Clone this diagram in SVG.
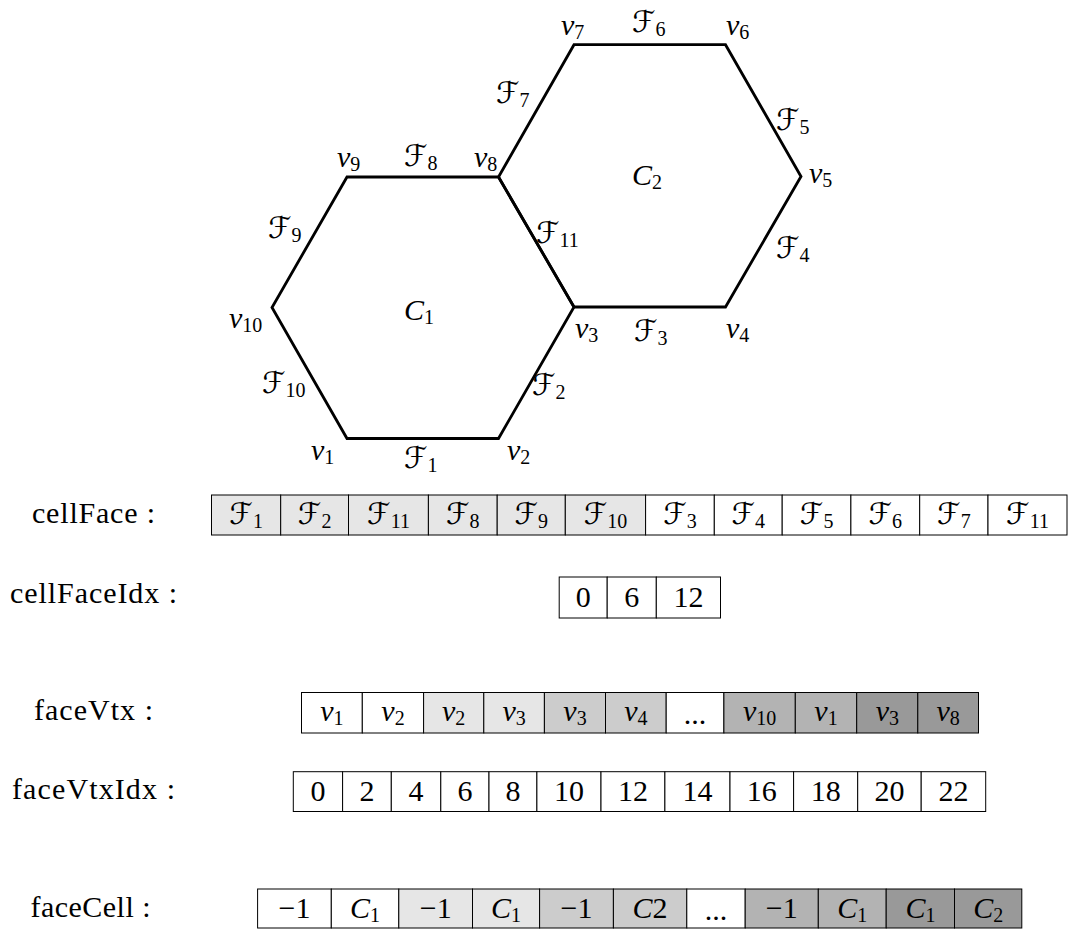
<svg xmlns="http://www.w3.org/2000/svg" width="1068" height="929" viewBox="0 0 1068 929">
<style>
.hex{fill:none;stroke:#000;stroke-width:2.8;stroke-linejoin:miter}
.lbl{font-family:"Liberation Serif",serif;font-size:30px;fill:#000}
.m{font-family:"Liberation Serif",serif;font-size:30px;font-style:italic;fill:#000}
.F{font-family:"DejaVu Sans","Liberation Serif",serif;font-style:normal;font-size:30px}
.s{font-style:normal;font-size:20px}
.n{font-family:"Liberation Serif",serif;font-size:30px;fill:#000}
.c{text-anchor:middle}
.cell{stroke:#000;stroke-width:1}
.w{fill:#fff}.g1{fill:#e6e6e6}.g2{fill:#cccccc}.g3{fill:#b3b3b3}.g4{fill:#999999}
</style>
<rect width="1068" height="929" fill="#fff"/>
<g id="connectors">
<polygon id="edge-C2" class="hex" points="574,307 725.5,307 801,176.5 725.5,44.7 574,44.7 498.5,177"/>
<polygon id="edge-C1" class="hex" points="347,438.5 498.5,438.5 574,307 498.5,177 347,177 272,307.5"/>
</g>
<g id="cell-C1"><text class="m" x="404" y="320">C<tspan class="s" dy="4">1</tspan></text></g>
<g id="cell-C2"><text class="m" x="632" y="185">C<tspan class="s" dy="4">2</tspan></text></g>
<g id="vertex-labels">
<text class="m" x="561" y="35">v<tspan class="s" dy="4">7</tspan></text>
<text class="m" x="726" y="35">v<tspan class="s" dy="4">6</tspan></text>
<text class="m" x="337" y="167">v<tspan class="s" dy="4">9</tspan></text>
<text class="m" x="474" y="167">v<tspan class="s" dy="4">8</tspan></text>
<text class="m" x="809" y="183">v<tspan class="s" dy="4">5</tspan></text>
<text class="m" x="229" y="328">v<tspan class="s" dy="4">10</tspan></text>
<text class="m" x="575" y="338">v<tspan class="s" dy="4">3</tspan></text>
<text class="m" x="726" y="338">v<tspan class="s" dy="4">4</tspan></text>
<text class="m" x="311" y="460">v<tspan class="s" dy="4">1</tspan></text>
<text class="m" x="507" y="460">v<tspan class="s" dy="4">2</tspan></text>
</g>
<g id="face-labels">
<text class="m" x="632" y="32"><tspan class="F">ℱ</tspan><tspan class="s" dy="4">6</tspan></text>
<text class="m" x="496" y="103"><tspan class="F">ℱ</tspan><tspan class="s" dy="4">7</tspan></text>
<text class="m" x="776" y="130"><tspan class="F">ℱ</tspan><tspan class="s" dy="4">5</tspan></text>
<text class="m" x="404" y="166"><tspan class="F">ℱ</tspan><tspan class="s" dy="4">8</tspan></text>
<text class="m" x="268" y="238"><tspan class="F">ℱ</tspan><tspan class="s" dy="4">9</tspan></text>
<text class="m" x="536" y="243"><tspan class="F">ℱ</tspan><tspan class="s" dy="4">11</tspan></text>
<text class="m" x="776" y="258"><tspan class="F">ℱ</tspan><tspan class="s" dy="4">4</tspan></text>
<text class="m" x="634" y="341"><tspan class="F">ℱ</tspan><tspan class="s" dy="4">3</tspan></text>
<text class="m" x="262" y="393"><tspan class="F">ℱ</tspan><tspan class="s" dy="4">10</tspan></text>
<text class="m" x="532" y="395"><tspan class="F">ℱ</tspan><tspan class="s" dy="4">2</tspan></text>
<text class="m" x="404" y="468"><tspan class="F">ℱ</tspan><tspan class="s" dy="4">1</tspan></text>
</g>
<g id="row-labels">
<text class="lbl c" x="93.5" y="523" textLength="123" lengthAdjust="spacing">cellFace :</text>
<text class="lbl c" x="93.5" y="603" textLength="167" lengthAdjust="spacing">cellFaceIdx :</text>
<text class="lbl c" x="93.5" y="720" textLength="119" lengthAdjust="spacing">faceVtx :</text>
<text class="lbl c" x="93.5" y="799" textLength="163" lengthAdjust="spacing">faceVtxIdx :</text>
<text class="lbl c" x="90.5" y="917" textLength="120" lengthAdjust="spacing">faceCell :</text>
</g>
<g id="cellFace">
<rect class="cell g1" x="211.5" y="495" width="69.2" height="40"/>
<rect class="cell g1" x="280.7" y="495" width="67.8" height="40"/>
<rect class="cell g1" x="348.5" y="495" width="79.9" height="40"/>
<rect class="cell g1" x="428.4" y="495" width="68.8" height="40"/>
<rect class="cell g1" x="497.2" y="495" width="68.1" height="40"/>
<rect class="cell g1" x="565.3" y="495" width="80.3" height="40"/>
<rect class="cell w" x="645.6" y="495" width="68.7" height="40"/>
<rect class="cell w" x="714.3" y="495" width="67.9" height="40"/>
<rect class="cell w" x="782.2" y="495" width="68.7" height="40"/>
<rect class="cell w" x="850.9" y="495" width="68.8" height="40"/>
<rect class="cell w" x="919.7" y="495" width="68.3" height="40"/>
<rect class="cell w" x="988" y="495" width="79" height="40"/>
<text class="m c" x="246.1" y="524"><tspan class="F">ℱ</tspan><tspan class="s" dy="4">1</tspan></text>
<text class="m c" x="314.6" y="524"><tspan class="F">ℱ</tspan><tspan class="s" dy="4">2</tspan></text>
<text class="m c" x="388.5" y="524"><tspan class="F">ℱ</tspan><tspan class="s" dy="4">11</tspan></text>
<text class="m c" x="462.8" y="524"><tspan class="F">ℱ</tspan><tspan class="s" dy="4">8</tspan></text>
<text class="m c" x="531.3" y="524"><tspan class="F">ℱ</tspan><tspan class="s" dy="4">9</tspan></text>
<text class="m c" x="605.5" y="524"><tspan class="F">ℱ</tspan><tspan class="s" dy="4">10</tspan></text>
<text class="m c" x="680" y="524"><tspan class="F">ℱ</tspan><tspan class="s" dy="4">3</tspan></text>
<text class="m c" x="748.3" y="524"><tspan class="F">ℱ</tspan><tspan class="s" dy="4">4</tspan></text>
<text class="m c" x="816.6" y="524"><tspan class="F">ℱ</tspan><tspan class="s" dy="4">5</tspan></text>
<text class="m c" x="885.3" y="524"><tspan class="F">ℱ</tspan><tspan class="s" dy="4">6</tspan></text>
<text class="m c" x="953.9" y="524"><tspan class="F">ℱ</tspan><tspan class="s" dy="4">7</tspan></text>
<text class="m c" x="1027.5" y="524"><tspan class="F">ℱ</tspan><tspan class="s" dy="4">11</tspan></text>
</g>
<g id="cellFaceIdx">
<rect class="cell w" x="559.2" y="577" width="48" height="41"/>
<rect class="cell w" x="607.2" y="577" width="49.1" height="41"/>
<rect class="cell w" x="656.3" y="577" width="64.2" height="41"/>
<text class="n c" x="583.2" y="607">0</text>
<text class="n c" x="631.8" y="607">6</text>
<text class="n c" x="688.4" y="607">12</text>
</g>
<g id="faceVtx">
<rect class="cell w" x="301.5" y="692.5" width="60.8" height="40.5"/>
<rect class="cell w" x="362.3" y="692.5" width="61.3" height="40.5"/>
<rect class="cell g1" x="423.6" y="692.5" width="60.2" height="40.5"/>
<rect class="cell g1" x="483.8" y="692.5" width="60.6" height="40.5"/>
<rect class="cell g2" x="544.4" y="692.5" width="61.1" height="40.5"/>
<rect class="cell g2" x="605.5" y="692.5" width="60.7" height="40.5"/>
<rect class="cell w" x="666.2" y="692.5" width="57.7" height="40.5"/>
<rect class="cell g3" x="723.9" y="692.5" width="71.4" height="40.5"/>
<rect class="cell g3" x="795.3" y="692.5" width="61.4" height="40.5"/>
<rect class="cell g4" x="856.7" y="692.5" width="61.1" height="40.5"/>
<rect class="cell g4" x="917.8" y="692.5" width="60.7" height="40.5"/>
<text class="m c" x="331.9" y="721">v<tspan class="s" dy="4">1</tspan></text>
<text class="m c" x="393" y="721">v<tspan class="s" dy="4">2</tspan></text>
<text class="m c" x="453.7" y="721">v<tspan class="s" dy="4">2</tspan></text>
<text class="m c" x="514.1" y="721">v<tspan class="s" dy="4">3</tspan></text>
<text class="m c" x="575" y="721">v<tspan class="s" dy="4">3</tspan></text>
<text class="m c" x="635.9" y="721">v<tspan class="s" dy="4">4</tspan></text>
<text class="n c" x="695" y="724" font-size="20">...</text>
<text class="m c" x="759.6" y="721">v<tspan class="s" dy="4">10</tspan></text>
<text class="m c" x="826" y="721">v<tspan class="s" dy="4">1</tspan></text>
<text class="m c" x="887.3" y="721">v<tspan class="s" dy="4">3</tspan></text>
<text class="m c" x="948.2" y="721">v<tspan class="s" dy="4">8</tspan></text>
</g>
<g id="faceVtxIdx">
<rect class="cell w" x="293.3" y="771.7" width="49.3" height="39.8"/>
<rect class="cell w" x="342.6" y="771.7" width="48.7" height="39.8"/>
<rect class="cell w" x="391.3" y="771.7" width="49.5" height="39.8"/>
<rect class="cell w" x="440.8" y="771.7" width="48.2" height="39.8"/>
<rect class="cell w" x="489" y="771.7" width="47.9" height="39.8"/>
<rect class="cell w" x="536.9" y="771.7" width="64.1" height="39.8"/>
<rect class="cell w" x="601" y="771.7" width="63.9" height="39.8"/>
<rect class="cell w" x="664.9" y="771.7" width="65.1" height="39.8"/>
<rect class="cell w" x="730" y="771.7" width="63.6" height="39.8"/>
<rect class="cell w" x="793.6" y="771.7" width="64.1" height="39.8"/>
<rect class="cell w" x="857.7" y="771.7" width="63.5" height="39.8"/>
<rect class="cell w" x="921.2" y="771.7" width="64.5" height="39.8"/>
<text class="n c" x="318" y="801">0</text>
<text class="n c" x="367" y="801">2</text>
<text class="n c" x="416" y="801">4</text>
<text class="n c" x="464.9" y="801">6</text>
<text class="n c" x="513" y="801">8</text>
<text class="n c" x="569" y="801">10</text>
<text class="n c" x="633" y="801">12</text>
<text class="n c" x="697.5" y="801">14</text>
<text class="n c" x="761.8" y="801">16</text>
<text class="n c" x="825.7" y="801">18</text>
<text class="n c" x="889.5" y="801">20</text>
<text class="n c" x="953.5" y="801">22</text>
</g>
<g id="faceCell">
<rect class="cell w" x="257.6" y="889" width="73.7" height="39"/>
<rect class="cell w" x="331.3" y="889" width="67.5" height="39"/>
<rect class="cell g1" x="398.8" y="889" width="73.7" height="39"/>
<rect class="cell g1" x="472.5" y="889" width="67.1" height="39"/>
<rect class="cell g2" x="539.6" y="889" width="73.8" height="39"/>
<rect class="cell g2" x="613.4" y="889" width="73.4" height="39"/>
<rect class="cell w" x="686.8" y="889" width="58.4" height="39"/>
<rect class="cell g3" x="745.2" y="889" width="73.1" height="39"/>
<rect class="cell g3" x="818.3" y="889" width="67.9" height="39"/>
<rect class="cell g4" x="886.2" y="889" width="68.3" height="39"/>
<rect class="cell g4" x="954.5" y="889" width="67.3" height="39"/>
<text class="n c" x="294.5" y="918">−1</text>
<text class="m c" x="365" y="918">C<tspan class="s" dy="4">1</tspan></text>
<text class="n c" x="435.7" y="918">−1</text>
<text class="m c" x="506" y="918">C<tspan class="s" dy="4">1</tspan></text>
<text class="n c" x="576.5" y="918">−1</text>
<text class="m c" x="650.1" y="918">C<tspan style="font-style:normal">2</tspan></text>
<text class="n c" x="716" y="920" font-size="20">...</text>
<text class="n c" x="781.8" y="918">−1</text>
<text class="m c" x="852.3" y="918">C<tspan class="s" dy="4">1</tspan></text>
<text class="m c" x="920.4" y="918">C<tspan class="s" dy="4">1</tspan></text>
<text class="m c" x="988.2" y="918">C<tspan class="s" dy="4">2</tspan></text>
</g>
</svg>
